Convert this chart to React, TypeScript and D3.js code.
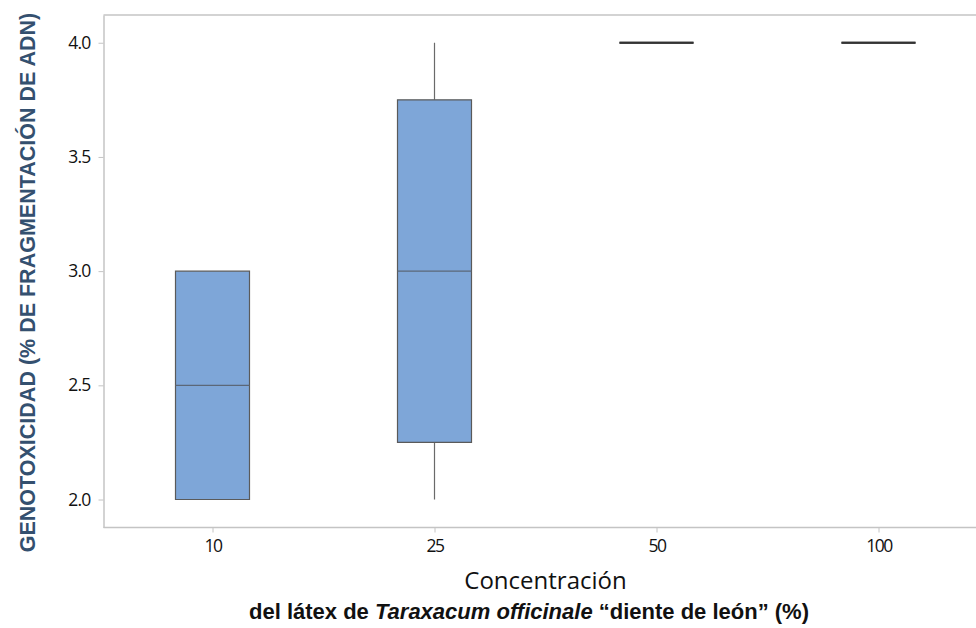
import React, { useEffect, useRef } from 'react';
import { select, scaleLinear, scalePoint, axisLeft, axisBottom, format } from 'd3';

// concentración del látex (%)
const categories = ['10', '25', '50', '100'];
// five-number summaries
const minValues = [2.0, 2.0, 4.0, 4.0];
const q1Values = [2.0, 2.25, 4.0, 4.0];
const medianValues = [2.5, 3.0, 4.0, 4.0];
const q3Values = [3.0, 3.75, 4.0, 4.0];
const maxValues = [3.0, 4.0, 4.0, 4.0];
const yTicks = [2.0, 2.5, 3.0, 3.5, 4.0];

const width = 976;
const height = 628;
const plot = { left: 103.5, top: 15, right: 976, bottom: 527.5 };
const boxWidth = 74;

const tickFont = '"Open Sans", "Noto Sans", sans-serif';
const axisGray = '#c4c4c4';

const drawChart = (node: SVGSVGElement) => {
  const svg = select(node);
  svg.selectAll('*').remove();

  const x = scalePoint<string>()
    .domain(categories)
    .range([plot.left + 109, plot.right - 97.5]);

  const y = scaleLinear()
    .domain([1.8775, 4.1215])
    .range([plot.bottom, plot.top]);

  // frame: top and bottom, left comes from the axis
  svg.append('line')
    .attr('x1', plot.left).attr('x2', plot.right)
    .attr('y1', plot.top).attr('y2', plot.top)
    .attr('stroke', axisGray).attr('stroke-width', 1.5);
  svg.append('line')
    .attr('x1', plot.left).attr('x2', plot.right)
    .attr('y1', plot.bottom).attr('y2', plot.bottom)
    .attr('stroke', axisGray).attr('stroke-width', 1.5);

  const yAxis = svg.append('g')
    .attr('transform', `translate(${plot.left},0)`)
    .call(axisLeft(y).tickValues(yTicks).tickFormat(format('.1f')).tickSize(5).tickSizeOuter(0).tickPadding(8));
  yAxis.select('.domain').attr('stroke', axisGray).attr('stroke-width', 1.5);
  yAxis.selectAll('.tick line').attr('stroke', axisGray);
  yAxis.selectAll('.tick text')
    .attr('font-family', tickFont).attr('font-size', 17.5).attr('fill', '#111')
    .attr('letter-spacing', '-0.8');

  const xAxis = svg.append('g')
    .attr('transform', `translate(0,${plot.bottom})`)
    .call(axisBottom(x).tickSize(5).tickSizeOuter(0).tickPadding(7));
  xAxis.select('.domain').remove();
  xAxis.selectAll('.tick line').attr('stroke', axisGray);
  xAxis.selectAll('.tick text')
    .attr('font-family', tickFont).attr('font-size', 17.5).attr('fill', '#111')
    .attr('letter-spacing', '-1.5');

  const data = categories.map((c, i) => ({
    c, min: minValues[i], q1: q1Values[i], med: medianValues[i], q3: q3Values[i], max: maxValues[i]
  }));

  const g = svg.append('g');

  // whiskers
  g.selectAll('.whisker-up')
    .data(data.filter(d => d.max > d.q3))
    .enter()
    .append('line')
    .attr('x1', d => x(d.c)!).attr('x2', d => x(d.c)!)
    .attr('y1', d => y(d.q3)).attr('y2', d => y(d.max))
    .attr('stroke', '#6a6a6a').attr('stroke-width', 1.2);
  g.selectAll('.whisker-down')
    .data(data.filter(d => d.min < d.q1))
    .enter()
    .append('line')
    .attr('x1', d => x(d.c)!).attr('x2', d => x(d.c)!)
    .attr('y1', d => y(d.q1)).attr('y2', d => y(d.min))
    .attr('stroke', '#6a6a6a').attr('stroke-width', 1.2);

  // boxes
  g.selectAll('.box')
    .data(data)
    .enter()
    .append('path')
    .attr('d', d => {
      const x0 = x(d.c)! - boxWidth / 2;
      return `M${x0},${y(d.q3)}h${boxWidth}V${y(d.q1)}h${-boxWidth}Z`;
    })
    .attr('fill', '#7ea6d8')
    .attr('stroke', d => (d.q1 === d.q3 ? '#333' : '#5a5a5a'))
    .attr('stroke-width', d => (d.q1 === d.q3 ? 2 : 1.2));

  // medians
  g.selectAll('.median')
    .data(data)
    .enter()
    .append('line')
    .attr('x1', d => x(d.c)! - boxWidth / 2).attr('x2', d => x(d.c)! + boxWidth / 2)
    .attr('y1', d => y(d.med)).attr('y2', d => y(d.med))
    .attr('stroke', d => (d.q1 === d.q3 ? '#333' : '#5b6778'))
    .attr('stroke-width', d => (d.q1 === d.q3 ? 2 : 1.4));

  // titles
  svg.append('text')
    .attr('transform', `translate(35,282.5) rotate(-90)`)
    .attr('text-anchor', 'middle')
    .attr('font-family', '"Liberation Sans", Arial, sans-serif')
    .attr('font-weight', 'bold')
    .attr('font-size', 21.5)
    .attr('fill', '#34506f')
    .text('GENOTOXICIDAD (% DE FRAGMENTACIÓN DE ADN)');

  svg.append('text')
    .attr('x', 545.5).attr('y', 589)
    .attr('text-anchor', 'middle')
    .attr('font-family', tickFont)
    .attr('font-size', 24)
    .attr('fill', '#111')
    .text('Concentración');

  const sub = svg.append('text')
    .attr('x', 529).attr('y', 619)
    .attr('text-anchor', 'middle')
    .attr('font-family', '"Liberation Sans", Arial, sans-serif')
    .attr('font-weight', 'bold')
    .attr('font-size', 22)
    .attr('fill', '#111');
  sub.append('tspan').text('del látex de ');
  sub.append('tspan').attr('font-style', 'italic').text('Taraxacum officinale');
  sub.append('tspan').text(' “diente de león” (%)');
};

const App = () => {
  const ref = useRef<SVGSVGElement>(null);

  useEffect(() => {
    if (ref.current) drawChart(ref.current);
  }, []);

  return (
    <svg
      ref={ref}
      width={width}
      height={height}
      style={{ position: 'absolute', left: 0, top: 0, background: '#fff' }}
    />
  );
};

export default App;
